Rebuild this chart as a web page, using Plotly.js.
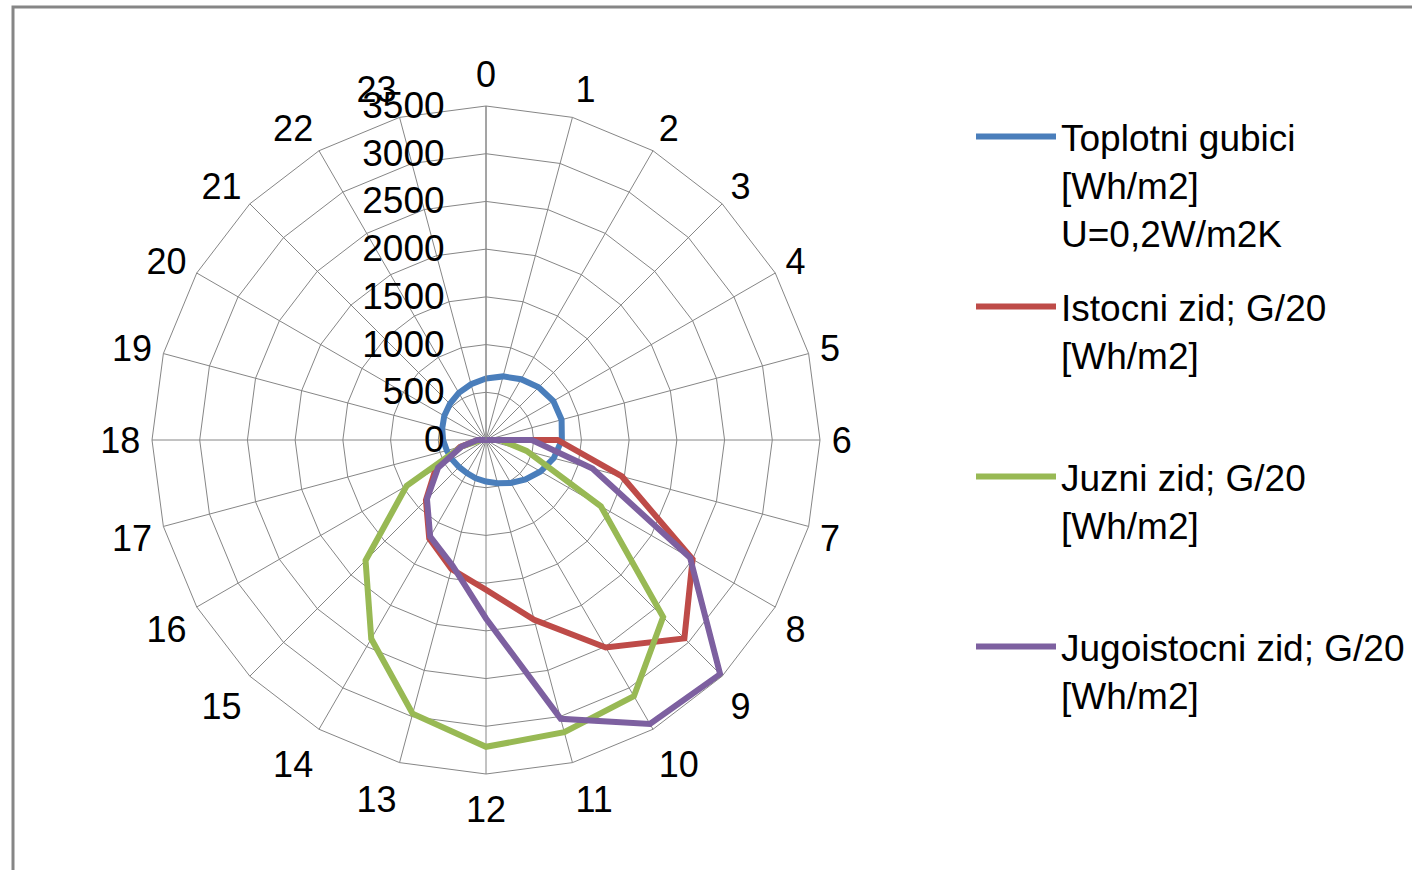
<!DOCTYPE html>
<html>
<head>
<meta charset="utf-8">
<script src="https://cdn.plot.ly/plotly-3.0.1.min.js"></script>
<style>html,body{margin:0;padding:0;background:#fff;}#chart{width:1412px;height:870px;}</style>
</head>
<body>
<div id="chart"></div>
<script>
var hours = ["0","1","2","3","4","5","6","7","8","9","10","11","12","13","14","15","16","17","18","19","20","21","22","23"];
var radialTicks = [0,500,1000,1500,2000,2500,3000,3500];

var toplotniGubici = [645,690,735,780,815,820,795,735,660,585,520,470,435,415,400,400,410,425,450,475,505,535,570,605];
var istocniZid    = [0,0,0,0,0,0,750,1475,2500,2940,2510,1950,1570,1400,1190,890,610,280,80,0,0,0,0,0];
var juzniZid      = [0,0,0,0,0,0,150,440,1390,2625,3100,3170,3215,2970,2405,1785,960,260,50,0,0,0,0,0];
var jugoistocniZid= [0,0,0,0,0,0,480,1155,2470,3470,3435,3025,1870,1360,1170,875,580,265,90,0,0,0,0,0];

var seriesNames = [
  "Toplotni gubici<br>[Wh/m2]<br>U=0,2W/m2K",
  "Istocni zid; G/20<br>[Wh/m2]",
  "Juzni zid; G/20<br>[Wh/m2]",
  "Jugoistocni zid; G/20<br>[Wh/m2]"
];
var seriesColors = ["#4A7EBB","#BE4B48","#98B954","#7D60A0"];
var seriesData = [toplotniGubici, istocniZid, juzniZid, jugoistocniZid];
var legendIds = ["legend","legend2","legend3","legend4"];

function closeLoop(a){ return a.concat([a[0]]); }

var traces = seriesData.map(function(vals, i){
  return {
    type: "scatterpolar",
    mode: "lines",
    r: closeLoop(vals),
    theta: closeLoop(hours),
    name: seriesNames[i],
    legend: legendIds[i],
    line: {color: seriesColors[i], width: 6},
    hoverinfo: "skip"
  };
});

var FONT = "Liberation Sans, Arial, sans-serif";
var W = 1412, H = 870;
var legendTops = [130, 300, 470, 640];

var layout = {
  width: W, height: H,
  margin: {l:0, r:0, t:0, b:0},
  paper_bgcolor: "#ffffff",
  font: {family: FONT, color: "#000000"},
  showlegend: true,
  polar: {
    domain: {x: [152/W, 820/W], y: [1-774/H, 1-106/H]},
    bgcolor: "#ffffff",
    gridshape: "linear",
    radialaxis: {
      range: [0, 3500], tickvals: radialTicks, ticktext: radialTicks.map(String),
      angle: 90,
      side: "counterclockwise",
      showline: true, linecolor: "#868686", linewidth: 1,
      gridcolor: "#868686", gridwidth: 1,
      ticks: "outside", ticklen: 28, tickcolor: "rgba(0,0,0,0)",
      tickangle: 90,
      tickfont: {family: FONT, size: 37, color: "#000"}
    },
    angularaxis: {
      type: "category", categoryarray: hours,
      rotation: 90, direction: "clockwise",
      showline: true, linecolor: "#868686", linewidth: 1,
      gridcolor: "#868686", gridwidth: 1,
      ticks: "outside", ticklen: 4, tickcolor: "rgba(0,0,0,0)",
      tickfont: {family: FONT, size: 36, color: "#000"}
    }
  },
  shapes: [{
    type: "rect", xref: "paper", yref: "paper",
    x0: 13/W, x1: 1.02, y0: -0.02, y1: 1-7/H,
    line: {color: "#868686", width: 3}, fillcolor: "rgba(0,0,0,0)"
  }]
};

legendIds.forEach(function(id, i){
  layout[id] = {
    x: 971/W, xanchor: "left",
    y: 1 - (legendTops[i]-24)/H, yanchor: "top",
    valign: "top",
    itemwidth: 80,
    bgcolor: "rgba(0,0,0,0)",
    font: {family: FONT, size: 37, color: "#000"},
    traceorder: "normal"
  };
});

Plotly.newPlot("chart", traces, layout, {staticPlot: true});
</script>
</body>
</html>
